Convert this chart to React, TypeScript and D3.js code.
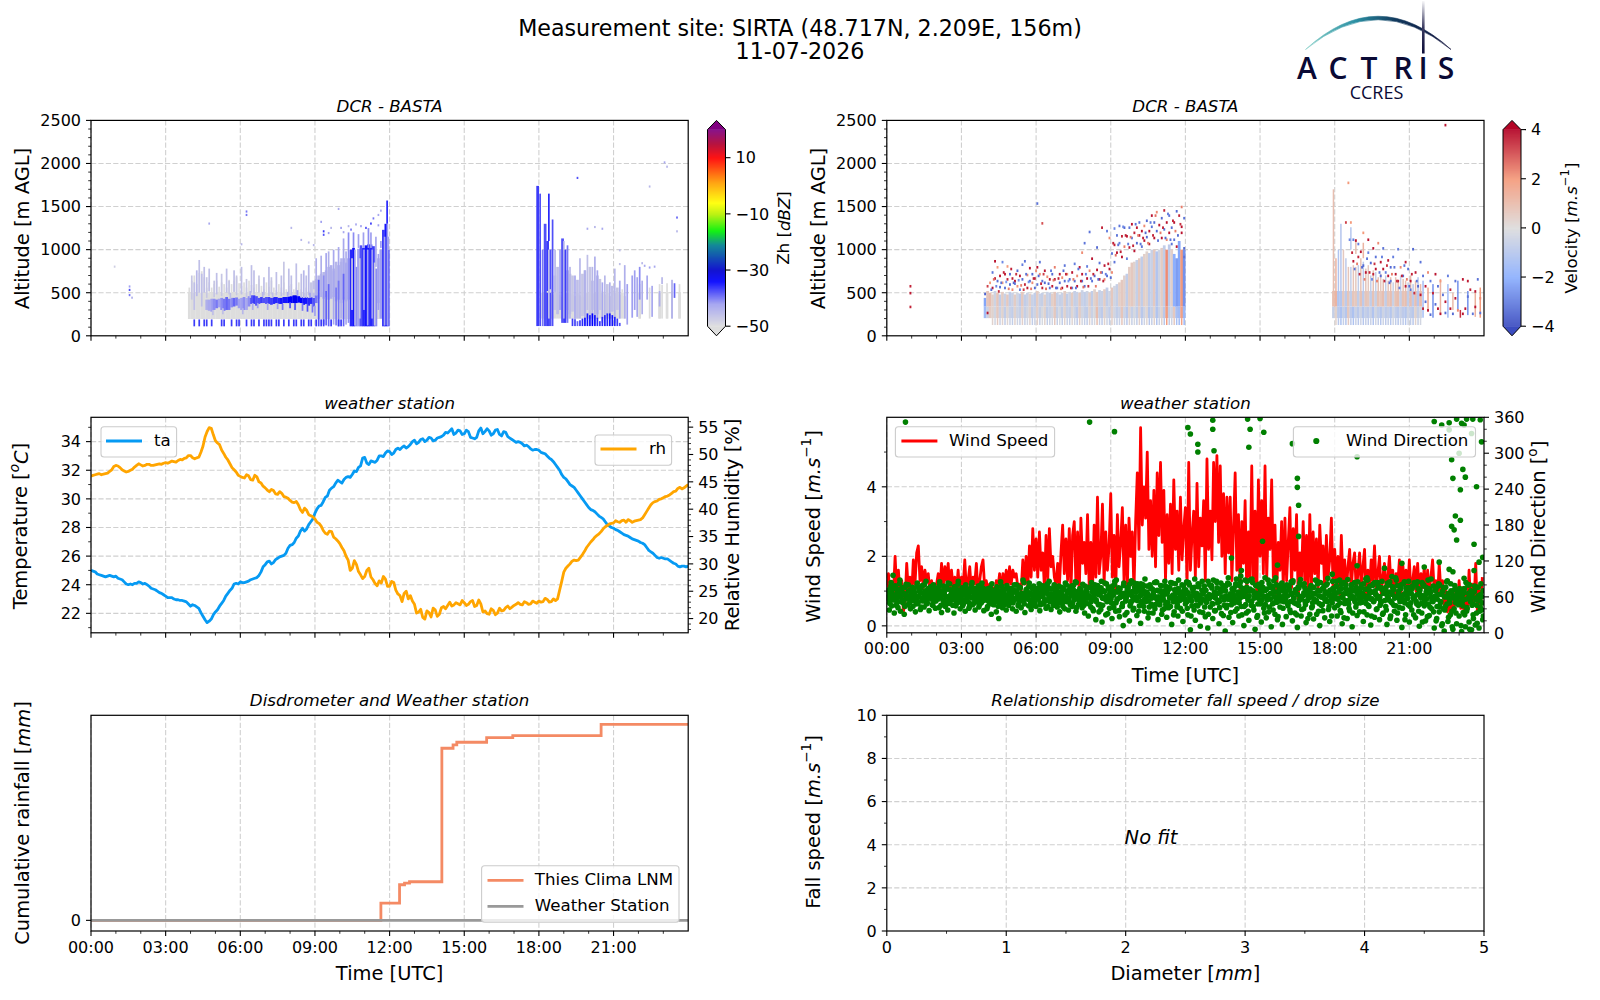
import React from "react";
import * as d3 from "d3";

const titleLines = ["Measurement site: SIRTA (48.717N, 2.209E, 156m)", "11-07-2026"];
const hourLabels = ["00:00", "03:00", "06:00", "09:00", "12:00", "15:00", "18:00", "21:00"];
const hourTicks = [0, 3, 6, 9, 12, 15, 18, 21];
const logoLetters: [string, number][] = [["A", 1307], ["C", 1338], ["T", 1369], ["R", 1403], ["I", 1423], ["S", 1446]];

// temperature and humidity, read on the 10 minute marks and on the 5 minute marks between them
const temperature = [25.0,24.9,24.7,24.6,24.6,24.6,24.6,24.4,24.2,24.0,24.0,24.1,24.15,24.1,23.9,23.7,23.55,23.4,23.2,23.1,23.0,22.95,22.9,22.8,22.5,22.55,22.35,21.8,21.35,21.6,22.1,22.5,22.9,23.4,23.75,24.1,24.2,24.15,24.25,24.4,24.5,24.9,25.4,25.65,25.55,25.85,26.0,26.2,26.75,26.95,27.4,27.95,27.9,28.4,29.0,29.5,29.8,30.2,30.75,31.1,31.2,31.35,31.55,31.7,31.9,32.3,32.9,32.4,32.6,32.7,33.0,33.2,33.3,33.2,33.55,33.6,33.55,33.8,34.1,33.95,34.2,34.1,34.25,34.1,34.3,34.45,34.6,34.9,34.6,34.75,34.55,34.7,34.25,34.3,34.95,34.7,34.75,34.55,34.85,34.4,34.65,34.25,34.05,34.0,33.85,33.75,33.5,33.45,33.4,33.2,33.0,32.75,32.4,32.0,31.5,31.2,30.9,30.6,30.2,29.8,29.4,29.2,28.95,28.7,28.4,28.1,27.95,27.8,27.6,27.45,27.3,27.15,27.05,26.9,26.6,26.3,26.05,25.85,25.85,25.8,25.6,25.45,25.25,25.3,25.3];
const temperatureMid = [24.95,24.75,24.65,24.55,24.65,24.55,24.45,24.35,24.05,24.05,24.1,24.2,24.05,24.0,23.75,23.65,23.45,23.3,23.1,23.1,22.95,22.9,22.85,22.65,22.6,22.45,22.05,21.55,21.45,21.9,22.25,22.7,23.2,23.6,24.05,24.05,24.15,24.2,24.35,24.45,24.65,25.25,25.6,25.45,25.75,25.95,26.05,26.55,26.8,27.25,27.75,27.75,28.2,28.6,29.3,29.55,30.1,30.6,30.85,31.3,31.1,31.5,31.5,31.95,32.2,32.85,32.5,32.65,32.55,33.0,32.95,33.35,33.1,33.45,33.45,33.7,33.65,34.0,33.85,34.15,34.0,34.3,34.05,34.25,34.35,34.65,34.75,34.5,34.8,34.5,34.8,34.3,34.2,34.75,34.55,34.9,34.45,34.8,34.5,34.7,34.35,34.15,33.95,33.95,33.7,33.65,33.4,33.45,33.25,33.15,32.85,32.6,32.2,31.7,31.4,31.0,30.8,30.4,30.0,29.6,29.25,29.1,28.8,28.6,28.2,28.0,27.85,27.7,27.5,27.4,27.2,27.1,26.95,26.8,26.4,26.2,25.9,25.9,25.8,25.7,25.5,25.3,25.3,25.25];
const humidity = [46.0,46.3,46.5,46.4,46.6,47.2,48.0,47.6,47.0,46.9,47.3,48.0,48.1,48.0,48.2,48.0,48.2,48.2,48.5,48.6,48.7,48.9,49.0,49.4,49.8,49.2,49.5,51.5,54.2,54.8,52.5,51.8,50.2,49.0,47.6,46.8,46.0,45.7,46.1,45.3,45.9,44.8,43.9,43.2,43.4,42.7,42.9,42.2,41.6,41.2,40.8,39.4,39.8,38.8,38.2,37.4,36.1,35.4,35.9,34.6,33.7,32.4,30.7,29.2,29.9,28.0,27.7,29.2,27.1,26.0,26.5,27.2,25.9,26.6,24.5,23.1,25.0,24.2,22.6,21.2,20.2,21.4,20.3,21.6,20.8,22.2,22.4,22.3,22.9,22.5,22.9,22.6,23.3,22.4,22.7,21.4,20.8,21.5,21.0,21.4,22.0,21.8,22.4,22.9,22.5,22.9,22.7,23.0,23.2,23.1,23.5,23.1,23.3,25.2,28.5,29.6,30.5,30.6,31.2,32.3,33.5,34.4,35.2,35.9,36.8,37.3,37.5,37.7,37.9,37.6,37.9,37.8,38.0,38.4,39.6,40.8,41.4,41.8,42.1,42.4,42.9,43.3,44.0,43.9,44.5];
const humidityMid = [46.2,46.4,46.3,46.5,46.9,47.8,47.9,47.2,46.8,47.1,47.7,48.3,47.9,48.2,48.0,48.1,48.3,48.4,48.4,48.8,48.6,49.1,49.3,49.8,49.4,49.4,50.4,53.2,54.9,53.6,52.1,50.8,49.5,48.3,47.2,46.2,45.8,46.3,45.4,46.2,45.0,44.2,43.5,43.6,42.8,43.2,42.3,42.0,41.3,41.4,39.9,40.2,39.0,38.6,37.6,36.9,35.6,36.0,34.9,34.2,33.0,31.4,28.8,30.6,28.6,27.3,28.8,27.6,26.4,26.9,27.7,25.9,26.8,25.2,24.2,24.6,23.6,23.2,21.0,21.7,19.9,21.1,21.9,20.4,22.0,21.8,23.0,22.5,22.7,23.3,22.4,23.1,22.2,23.4,21.2,20.9,21.8,20.7,21.9,21.5,22.3,22.1,22.6,22.6,23.1,22.6,23.2,22.8,23.0,23.7,23.0,23.6,23.6,26.8,29.2,30.0,30.7,30.7,31.7,33.0,34.0,34.9,35.5,36.4,37.0,37.4,37.9,37.6,38.0,38.1,37.6,37.9,38.1,39.0,40.2,41.2,41.5,41.9,42.3,42.6,43.2,43.8,43.7,44.2];

// wind speed, every 4 minutes
const windSpeed = [1.1,1.5,0.8,1.2,0.9,2.0,1.0,1.6,0.9,1.3,0.4,0.7,1.8,1.0,1.4,0.9,1.9,1.2,2.1,2.3,1.3,1.7,1.1,1.6,1.3,1.5,0.9,1.3,1.0,1.2,1.2,1.5,1.0,1.8,1.1,1.7,1.3,1.8,1.0,1.6,1.1,1.4,1.0,1.6,0.9,1.4,1.1,1.9,1.0,1.3,1.7,1.0,1.4,1.2,1.8,0.9,1.3,1.7,1.9,1.1,1.3,1.0,1.2,0.8,1.1,0.7,1.3,1.1,1.5,0.9,1.5,1.2,1.6,1.1,1.7,1.2,1.6,1.4,1.5,1.1,1.2,1.0,1.9,1.2,2.0,1.1,2.3,1.4,2.8,1.6,2.5,1.4,2.7,1.6,2.1,1.1,2.6,1.3,2.8,1.7,2.0,1.4,1.2,1.8,1.1,2.1,2.9,1.5,2.5,1.3,2.8,1.0,2.6,3.0,1.2,2.7,0.9,3.1,1.8,2.4,1.5,3.2,1.1,2.4,1.0,2.9,1.4,3.7,1.5,2.0,3.5,1.2,2.7,1.6,2.3,3.8,1.4,2.6,1.0,3.2,1.7,2.4,3.4,1.3,2.9,1.1,3.1,2.0,2.7,1.0,3.0,4.4,2.2,5.7,2.9,4.0,3.1,5.0,2.2,3.6,2.0,3.9,1.7,4.4,2.6,4.7,2.4,3.9,1.3,3.2,1.8,3.5,1.5,4.2,2.2,3.3,1.6,3.7,1.9,2.8,3.4,1.2,4.7,1.6,2.6,3.3,1.4,4.1,1.7,3.1,2.3,3.6,1.3,4.8,2.2,3.3,1.9,4.7,3.0,4.9,2.4,4.6,2.0,3.8,1.5,3.7,2.1,3.7,1.3,2.8,4.4,1.6,3.2,1.0,3.0,1.8,3.6,0.9,2.7,1.4,4.6,1.2,3.3,0.8,4.2,2.0,3.6,1.5,4.6,1.3,3.1,2.2,4.2,1.4,2.9,0.9,2.4,1.6,3.0,1.1,3.1,1.3,2.4,3.4,1.1,2.8,1.6,3.2,0.7,2.1,1.4,3.0,1.2,2.6,1.0,3.2,1.2,2.7,1.5,2.5,1.0,2.9,1.8,2.3,1.0,2.6,1.4,1.9,3.1,1.1,2.2,1.3,2.0,0.9,2.6,1.2,1.9,1.0,1.7,2.2,1.1,1.8,2.1,1.0,1.5,2.1,1.1,1.7,2.2,0.7,1.6,1.0,1.9,1.3,2.3,1.1,1.5,2.0,0.9,1.4,1.8,1.0,1.4,2.0,1.1,1.6,0.8,1.5,1.2,1.9,0.9,1.8,1.2,1.6,1.0,1.9,0.9,1.3,1.7,1.0,1.8,0.8,1.5,1.1,1.7,0.7,1.6,1.0,1.4,1.9,1.0,1.3,0.8,1.8,1.0,1.3,0.6,1.0,0.4,0.9,0.3,0.7,0.5,1.0,0.6,1.3,0.5,1.1,0.3,0.9,0.5,1.6,0.6,1.2,0.7,1.8,0.4,1.0,0.5,1.4];

// wind direction, on the 3 minute marks, then on the marks between them, then the dense core
const windDir = [
52,66,38,71,45,60,33,78,55,42,68,36,74,50,31,62,80,47,57,40,
64,44,72,35,58,49,76,39,67,53,43,70,48,61,37,73,56,46,65,41,
59,75,42,69,34,63,51,44,77,38,60,54,70,46,33,66,49,72,57,40,
62,45,71,36,68,52,41,74,59,47,65,38,55,70,43,61,50,75,37,58,
63,44,52,68,31,56,47,70,35,60,24,66,49,42,73,54,38,62,46,69,
51,40,71,57,36,64,48,76,42,59,53,34,72,61,45,67,39,56,78,50,
44,69,58,37,63,72,48,54,41,66,75,52,39,60,46,71,55,43,68,35,
62,49,73,40,57,66,38,51,70,44,79,59,36,64,47,55,72,42,60,33,
50,68,28,61,43,74,37,56,22,65,47,71,39,18,58,69,30,52,77,41,
63,24,48,81,36,55,70,27,60,44,12,66,53,34,75,20,49,62,38,83,
57,29,71,45,16,64,80,36,52,68,25,43,76,58,33,61,47,84,22,54,
69,31,60,40,78,26,50,73,44,14,63,35,82,55,28,67,41,59,19,72,
48,85,30,62,5,53,75,38,21,66,45,80,11,57,34,70,27,51,8,64,
43,79,24,60,37,86,50,15,68,32,74,55,3,42,83,26,61,47,17,71,
36,90,52,28,78,44,65,12,88,33,59,21,73,46,84,38,6,66,29,81,
54,18,70,41,92,25,62,35,76,10,48,87,31,57,22,69,43,80,14,52,
64,27,49,78,38,85,20,58,33,72,9,46,83,28,61,40,75,17,54,68,
31,79,44,23,66,52,86,36,12,60,47,74,25,56,82,39,19,63,50,71,
42,77,28,58,88,34,15,65,49,80,24,54,37,72,10,60,84,43,29,68,
35,75,51,19,62,90,30,46,70,13,57,82,26,64,40,78,22,53,86,33,
67,44,14,59,80,28,50,72,36,92,21,61,42,76,9,55,85,30,65,47,
18,70,38,58,84,25,48,74,11,63,33,79,45,20,57,88,29,67,40,52,
8,62,24,78,35,50,12,70,3,44,85,19,58,30,66,6,40,74,15,52,
28,60,2,45,72,10,36,80,18,55,5,48,68,13,33,76,8,42,60,22];
const windDirB = [
58,72,49,84,63,55,78,46,69,60,88,52,75,66,44,81,57,70,50,64,
76,54,67,48,83,61,72,43,79,56,65,86,50,74,59,68,47,80,62,53,
71,57,85,46,66,78,52,60,73,49,82,64,55,69,77,45,58,86,62,51,
75,48,67,80,56,63,44,72,84,59,50,70,61,78,47,66,83,54,68,57,
40,74,58,65,82,49,69,52,77,44,62,85,56,71,47,60,79,53,66,74,
63,50,80,57,70,45,76,61,54,88,48,67,73,59,83,52,64,46,75,62,
69,56,82,47,66,60,78,53,71,44,86,58,65,50,80,62,74,49,68,55,
76,44,61,83,52,70,58,47,78,64,55,85,42,69,60,73,50,81,46,66,
62,76,48,58,84,40,67,72,52,79,35,63,86,46,70,56,82,32,61,74,
50,78,42,68,88,57,37,73,64,49,83,30,59,75,66,45,87,54,41,71,
60,82,36,69,52,76,44,90,58,65,33,80,48,73,62,40,85,55,70,47,
78,38,64,86,51,68,42,75,59,83,30,61,72,47,88,54,66,36,79,57,
69,41,84,56,28,74,63,90,46,60,77,35,52,86,68,43,71,58,31,80,
62,49,88,37,66,75,54,42,83,70,29,60,78,46,92,56,34,73,64,50,
82,40,68,57,95,30,74,61,47,86,36,70,53,90,44,65,79,26,58,76,
48,84,62,33,71,55,88,43,66,78,38,60,92,51,27,74,56,83,41,69,
58,80,45,72,34,64,87,50,67,30,76,54,89,39,62,82,47,70,24,60,
75,42,66,56,88,31,71,49,84,60,37,78,53,68,91,44,63,28,74,57,
66,86,46,70,37,81,59,25,74,52,89,41,64,78,33,56,72,48,85,61,
50,80,62,35,73,56,88,44,67,28,79,53,70,39,84,60,46,75,31,66,
72,38,83,55,24,68,77,46,60,88,33,70,52,80,41,64,22,75,57,86,
44,66,78,30,61,52,85,36,72,49,18,80,58,68,27,74,43,90,55,35,
71,20,56,82,44,64,15,76,38,60,87,26,50,70,10,58,79,33,65,47,
74,12,52,66,30,84,40,58,6,70,46,24,78,55,16,62,36,82,50,28];
const windDirCore = [
61,70,55,78,66,58,74,63,50,72,82,60,68,54,76,64,57,80,62,70,
56,73,65,60,78,52,69,75,58,66,80,62,55,71,64,77,59,68,53,74,
65,57,79,61,70,54,67,75,60,83,56,72,63,58,76,66,52,81,69,60,
70,55,64,77,60,72,50,68,80,58,66,74,62,54,71,79,57,65,73,61,
55,69,60,75,48,66,58,72,63,52,70,56,78,60,67,54,74,62,69,57,
64,72,55,68,80,60,53,75,66,58,84,62,70,56,77,64,51,73,60,68,
58,74,65,50,79,62,70,55,67,82,60,73,57,64,76,53,69,61,78,58,
66,52,72,60,80,57,68,75,63,49,71,59,84,64,55,74,61,67,53,78,
70,58,62,76,52,68,60,80,55,72,64,47,75,58,69,83,61,54,73,66,
57,71,63,86,50,68,75,59,66,44,79,61,55,72,64,81,52,69,60,76,
68,54,75,61,82,48,70,57,65,78,53,62,74,46,67,84,58,71,60,52,
79,63,55,70,47,65,76,58,84,61,52,72,66,43,74,59,68,80,56,64,
72,52,67,80,58,45,69,76,60,55,82,63,50,71,65,78,54,60,86,57,
62,75,48,68,58,84,66,52,73,60,79,46,70,62,56,81,65,54,74,59,
78,56,64,50,85,60,71,44,68,76,55,62,88,52,70,58,66,79,48,63,
69,54,76,60,47,73,62,82,56,65,74,50,68,80,58,64,53,71,60,77,
55,70,62,78,52,66,84,58,72,48,64,75,60,56,80,67,52,70,62,58,
72,60,50,76,65,54,82,62,70,46,74,58,66,80,52,63,71,56,86,60,
64,78,56,68,50,74,60,84,54,66,72,48,62,80,58,70,52,76,65,57,
70,55,66,82,60,49,73,62,78,56,68,52,84,64,58,75,60,50,72,66,
54,76,62,68,85,52,64,72,58,45,79,66,56,74,60,82,50,68,62,76,
68,50,74,60,56,80,64,46,70,58,84,62,52,76,66,48,72,60,54,78,
56,72,44,64,80,52,68,40,60,76,48,66,56,82,36,62,72,50,58,68,
50,68,60,34,74,56,42,66,80,52,62,30,70,58,46,76,54,64,38,70];

const windDirOutlierHour = [0.75,8.15,9.15,12.1,12.2,13.1,13.1,12.5,12.5,13.15,14.5,14.6,14.55,15.0,15.15,16.3,16.5,16.5,16.55,16.55,15.1,13.85,18.9,18.9,20.7,22.2,22.0,22.3,22.6,22.6,22.9,23.1,23.2,23.3,23.55,23.85,23.5,23.9,23.0,22.7,23.15,22.75,23.25,23.7,23.05,22.85,23.05,22.7,22.8,22.9,23.6,23.95,22.6,22.75,23.6,23.2,14.25,15.7,20.0,0.25,17.9,19.3,20.3,21.6,23.8];
const windDirOutlierDeg = [352,352,336,343,332,355,340,315,302,304,357,340,310,358,335,316,258,243,213,161,153,125,294,112,116,118,353,347,351,339,357,350,347,357,357,356,333,319,300,289,273,258,260,244,239,195,188,178,172,155,148,126,106,102,104,91,104,113,108,96,98,92,94,110,118];

// rainfall steps
const rainHour = [0, 11.65, 12.4, 12.6, 12.8, 14.1, 14.55, 14.7, 15.9, 16.95, 20.5, 24];
const rainMm = [0, 0.52, 1.07, 1.12, 1.16, 5.17, 5.27, 5.35, 5.49, 5.55, 5.89, 5.89];
const stationHour = [0, 24];
const stationMm = [0, 0];

type Cell = [number, number, number, number];
// Zh: grey column tops (slot = tenths of an hour)
const zhGreyTopLeft = [560,640,700,600,730,750,680,560,620,560,600,640,570,620,600,560,650,600,640,680,610,580,620,560,640,590,560,600,660,580,540,620,570,640,560,530,600,560,620,540,580,600,540,560,620,540,500,560,520,500,540,500,520,480,500,480,500,470,480,500,460,480,450,470,440,460,450,440,470,450,430,460,440,450,430,460,440,430,450,440,430];
const zhGreyTopRight = [500,500,520,540,480,520,500,480,450,500,520,500,480,460,500,470,450,480,500,460,490,510,470,500,520,480,500,460,480,520,500,480,540,460,0,0,0,0,0,600,0,0,0,560,0,0,0,600,590,0,610,0,520,0,0,600];
const zhBand: Cell[] = [[46,300,420,-44],[47,290,420,-43],[48,280,430,-42],[49,300,430,-41],[50,320,420,-40],[51,330,430,-42],[52,300,440,-41],[53,290,430,-40],[54,300,450,-39],[55,300,430,-40],[56,330,440,-41],[57,340,440,-39],[58,350,445,-40],[59,320,430,-42],[60,300,440,-42],[61,300,450,-41],[62,300,440,-43],[63,340,460,-41],[64,370,470,-38],[65,370,470,-37],[66,350,460,-38],[67,370,440,-38],[68,380,450,-37],[69,380,440,-38],[70,370,450,-38],[71,370,450,-37],[72,360,440,-37],[73,370,450,-36],[74,380,450,-36],[75,370,440,-36],[76,370,440,-35],[77,380,450,-35],[78,380,450,-35],[79,380,455,-34],[80,380,460,-34],[81,380,470,-33],[82,380,470,-33],[83,385,460,-34],[84,380,450,-34],[85,360,440,-35],[86,370,450,-35],[87,350,440,-36],[88,370,445,-36],[89,340,440,-38],[90,380,470,-40]];
const zhBandFuzz: Cell[] = [[48.5,240,300,-46],[52.5,250,320,-46],[55.5,430,500,-46],[60.5,250,320,-45],[63.5,440,520,-45],[64.5,300,380,-44],[66.5,320,380,-42],[68.5,450,510,-45],[70.5,300,380,-43],[72.5,440,500,-46],[74.5,310,380,-42],[76.5,300,370,-40],[78.5,450,510,-44],[79.5,320,390,-38],[81.5,300,380,-38],[82.5,460,530,-42],[84.5,290,380,-40],[86.5,280,370,-38],[87.5,440,500,-42],[88.5,270,370,-40],[89.5,230,350,-42]];
const zhHaze: Cell[] = [[40,420,700,-47],[41,300,620,-46],[42,460,760,-45],[43,500,880,-46],[44,340,720,-46],[45,500,800,-46],[46,440,680,-47],[47,520,780,-46],[49,450,640,-47],[50,480,730,-46],[52,460,720,-47],[54,500,780,-46],[55,480,640,-47],[57,510,760,-46],[58,470,700,-47],[60,480,800,-46],[62,450,660,-47],[64,500,820,-46],[65,480,760,-46],[67,500,700,-47],[69,470,680,-46],[71,460,800,-46],[72,480,680,-47],[74,470,740,-46],[76,460,700,-46],[77,470,860,-47],[79,470,780,-46],[80,460,700,-46],[82,480,840,-46],[84,440,720,-46],[85,450,760,-45],[86,440,700,-46],[87,470,820,-45],[90,470,900,-44],[92,450,930,-44],[94,450,960,-43],[95,420,980,-44],[97,450,1000,-43],[99,420,1030,-43],[101,420,1130,-43],[102,400,980,-44],[105,1020,1200,-41],[107,1020,1180,-42],[109,1020,1200,-42],[111,1020,1250,-41],[112,1020,1200,-42],[114,800,1150,-43],[116,1020,1100,-42],[119,1000,1150,-42]];
const zhCloud: Cell[] = [[88,440,620,-47],[89,450,640,-46],[90,470,660,-46],[91,430,700,-45],[92,450,720,-46],[93,430,740,-45],[94,450,760,-45],[95,420,800,-45],[96,430,820,-44],[97,450,780,-45],[98,400,860,-45],[99,420,820,-44],[100,380,860,-45],[101,420,900,-44],[102,400,840,-45],[103,420,900,-44],[115,380,900,-45],[186,300,700,-47],[187,250,800,-46],[191,300,760,-46],[192,250,720,-47],[193,280,700,-47],[195,200,650,-46],[197,230,720,-47],[198,250,760,-46],[200,200,800,-47],[201,300,640,-46],[203,250,700,-46],[204,300,660,-47],[207,230,600,-47],[209,280,580,-46],[211,300,560,-47]];
const zhCore: Cell[] = [[104,110,1000,-36],[105,110,1020,-35],[106,110,800,-41],[107,110,1010,-42],[108,110,1050,-38],[109,110,1020,-36],[110,110,1050,-35],[111,110,1060,-35],[112,110,1060,-36],[113,110,1040,-37],[114,110,780,-41],[116,200,1000,-42],[117,110,1230,-37],[118,110,1300,-35],[119,110,1000,-39],[179,113,1740,-37],[182,113,1300,-38],[183,113,1100,-37],[184,113,1000,-38],[189,150,1130,-38],[190,150,1000,-37]];
const zhCoreGaps: Cell[] = [[104.4,300,900,-47],[105.6,120,1000,-44],[107.5,200,900,-47],[109.2,300,1000,-42],[110.7,120,1000,-42],[112.5,200,1000,-42],[113.5,120,850,-47],[117.5,120,1150,-43],[118.6,120,1300,-42],[183.5,200,1000,-46],[189.5,200,1100,-44]];
const zhThin: Cell[] = [[91,110,650,-38],[93,130,700,-41],[94,120,520,-39],[95,110,600,-39],[97,130,750,-43],[98,120,560,-40],[99,110,640,-40],[100,200,900,-44],[101,110,720,-39],[102,130,850,-43],[103,150,1200,-41],[115,300,950,-42],[118.5,1300,1570,-36],[180,113,1650,-38],[181,113,1000,-40],[183.5,1100,1650,-36],[185,113,1350,-38],[186,500,1000,-45],[188,300,1000,-42],[191,150,1050,-40],[192,200,800,-45],[194,113,700,-43],[196,200,900,-45],[198,130,760,-44],[199,300,940,-46],[201,130,800,-45],[202,130,920,-44],[203,200,760,-43],[205,150,620,-43],[206,113,700,-45],[208,200,620,-44],[210,150,780,-45],[212,200,640,-43],[214,200,820,-44],[215,130,600,-42],[217,210,700,-42],[218,300,760,-42],[219,220,680,-43],[220,420,800,-41],[221,250,640,-44],[223,420,700,-43],[225,220,580,-43],[228,340,520,-44],[229,600,680,-45],[233,200,650,-44],[234,440,610,-39]];
const zhLowRight: Cell[] = [[193,113,200,-37],[194,113,190,-38],[195,113,170,-39],[196,113,180,-37],[197,113,200,-36],[198,113,210,-35],[199,113,260,-35],[200,113,240,-35],[201,113,260,-34],[202,113,240,-35],[203,113,210,-36],[204,113,170,-37],[205,113,220,-36],[206,113,240,-36],[207,113,260,-36],[208,113,260,-35],[209,113,240,-35],[210,113,220,-36],[211,113,200,-37],[212,113,150,-38]];
const zhLowSlots = [41,43,45,46,48,52,53,56,58,59,62,64,65,67,69,70,71,72,74,75,77,79,81,82,84,85,87,88,90,92,93,96,99,100];
const zhSpecks: [number, number, number][] = [[9,790,-48],[15,520,-38],[15,460,-40],[15,560,-42],[16,430,-44],[47,1290,-43],[62,1430,-40],[62,1390,-40],[60,1050,-45],[80,1240,-45],[84,1100,-45],[87,1070,-45],[89,1040,-45],[92,1310,-42],[99,1460,-43],[93,1200,-37],[93,1160,-38],[95,1180,-42],[96,1240,-45],[100,1240,-42],[101,1190,-43],[103,1260,-45],[104,1220,-40],[106,1280,-43],[108,1260,-42],[110,1240,-38],[112,1290,-37],[113,1350,-40],[115,1390,-43],[116,1440,-43],[115,1270,-42],[195,1820,-38],[199,1230,-43],[202,1250,-45],[205,1230,-43],[212,820,-46],[212,980,-46],[221,830,-45],[224,1720,-45],[235,1360,-39],[235,1200,-45],[230,2000,-43],[231,1950,-45],[222,800,-43],[224,780,-42],[226,790,-43]];

// Velocity body columns, slots 39..119 and 179..214
const velTopLeft = [440,520,500,480,520,500,480,510,490,480,510,500,480,500,490,510,480,500,490,480,500,520,490,500,480,510,500,490,510,500,480,500,520,490,510,500,520,510,500,530,510,520,500,520,540,510,530,520,540,560,520,560,580,600,620,650,700,720,800,850,860,880,900,920,950,980,960,1000,1000,980,1000,1020,1050,1000,1060,1000,950,900,1100,1000,1000];
const velLowLeft = [-1.5,-0.5,0.5,0.3,-0.3,0.6,-0.5,0.3,-0.7,0.2,-0.5,-0.7,0.3,-0.4,-0.6,0.4,-0.6,-0.3,0.3,-0.7,-0.4,0.4,-0.6,-0.2,0.3,-0.7,-0.5,-0.3,0.6,-0.6,-0.2,-0.7,0.3,-0.5,-0.6,0.2,-0.4,-0.8,0.5,-0.3,-0.6,-0.7,0.3,-0.5,-0.2,0.9,-0.6,-0.8,0.3,-0.4,-0.7,0.4,-0.3,-0.7,-0.5,0.7,-0.4,-0.9,0.3,-0.6,-0.2,-0.7,0.4,-0.9,-0.4,0.2,-1.0,-0.6,0.3,-1.1,-0.5,0.3,-0.9,1.9,-0.7,-0.4,0.6,-1.3,-1.5,1.8,-1.7];
const velHighLeft = [-2.2,0.7,0.9,0.4,-0.4,0.7,-0.7,0.5,-0.5,0.6,-0.7,-0.5,0.5,-0.3,-0.8,0.6,-0.7,-0.5,0.4,-0.5,-0.7,0.5,-0.5,-0.6,0.4,-0.5,-0.7,0.4,0.7,-0.5,-0.6,-0.5,0.5,-0.7,-0.4,0.5,-0.6,-0.5,0.6,-0.5,-0.7,-0.4,0.5,-0.7,0.3,0.6,-0.6,-0.5,0.5,-0.7,-0.4,0.6,-0.3,-0.6,0.4,0.6,0.4,-0.7,0.5,0.6,0.3,-0.6,0.6,-0.7,0.4,0.3,-0.8,-0.5,0.6,-1.1,-0.4,0.5,-0.7,2.2,-0.8,0.4,-2.0,-2.4,-2.2,2.0,-2.6];
const velTopRight = [1700,900,1000,1300,1000,900,800,800,820,800,820,900,860,780,820,700,760,740,680,720,660,700,640,680,620,680,640,700,660,640,620,700,600,640,680,600];
const velLowRight = [-0.6,0.3,-0.9,-1.2,-0.6,-1.0,0.6,-0.8,-1.2,-0.5,-0.9,-0.4,-1.0,-0.6,-0.8,-0.5,-1.1,-0.3,-0.7,-1.0,-0.4,-0.8,-0.6,-1.0,-0.3,-0.7,-0.9,-0.5,-0.8,-1.0,-0.4,-0.7,-0.9,0.3,-0.6,-0.3];
const velHighRight = [0.9,1.2,-1.1,-1.0,0.6,-0.8,0.7,-0.7,0.7,0.6,-0.7,0.8,-0.8,0.7,0.6,-0.7,0.8,-0.6,0.8,0.6,0.9,-0.7,0.7,0.9,-0.5,0.8,0.9,-0.6,0.8,0.9,-0.7,0.9,-0.8,0.9,-1.0,1.0];
const velSparse: Cell[] = [[215,210,640,-1.4],[217,300,560,1.6],[219,210,600,-2.6],[222,250,660,1.2],[225,210,600,-1.5],[227,300,500,1.0],[229,300,640,-2.6],[233,240,520,-2.6],[236,220,500,1.3],[238,210,560,2.0],[230,210,300,3.4],[186,1000,1260,-1.0],[188,950,1120,0.9],[191,900,1080,1.2]];
const velSpecks: [number, number, number][] = [[9,560,3.6],[9,480,3.7],[9,320,3.6],[39,470,-3.5],[40,560,3.2],[40,250,3.8],[41,600,2.0],[42,720,-3.2],[42,540,3.8],[43,650,3.6],[43,850,3.8],[44,620,-3.3],[44,780,2.0],[45,550,-3.3],[45,680,3.7],[46,840,-2.8],[46,600,2.0],[47,700,3.7],[47,540,-3.2],[48,640,3.6],[48,790,2.0],[49,580,-3.4],[49,700,-3.4],[50,650,3.7],[50,520,2.2],[51,590,-3.0],[51,620,3.8],[52,740,-3.4],[52,560,2.1],[53,680,3.7],[53,520,-3.0],[54,640,-3.4],[54,810,-3.0],[55,580,3.6],[55,850,-3.2],[56,690,2.2],[56,540,3.7],[57,770,3.8],[57,620,-3.4],[58,600,2.2],[58,700,-3.4],[59,540,-3.4],[59,650,3.6],[60,780,3.8],[60,580,-3.2],[61,700,2.2],[61,840,-3.2],[62,620,-3.2],[62,540,3.6],[63,740,3.7],[63,600,-3.4],[64,670,2.2],[65,540,-3.2],[65,640,3.8],[66,700,-3.4],[66,560,3.7],[67,640,3.8],[67,780,2.4],[68,540,-3.2],[69,700,3.7],[69,600,-3.4],[70,660,2.2],[70,540,3.8],[71,620,-3.3],[71,800,-3.2],[72,700,2.2],[72,560,3.6],[73,640,-3.4],[74,720,3.8],[74,540,-3.0],[75,620,-3.4],[75,820,-3.0],[76,560,3.8],[76,680,2.2],[77,780,3.7],[78,620,-3.4],[78,950,2.2],[78,700,3.7],[79,560,-3.4],[79,1060,-3.2],[80,650,3.8],[80,790,-3.0],[81,740,2.2],[81,1190,-3.2],[82,620,-3.2],[82,880,3.8],[83,680,-3.4],[84,750,3.8],[84,1010,-3.4],[85,640,3.7],[85,830,-3.2],[86,720,-3.2],[86,1240,3.6],[87,800,3.8],[87,640,2.2],[88,680,-3.3],[88,1200,-3.0],[89,760,3.8],[89,1120,2.2],[90,940,-3.2],[90,720,2.2],[91,1040,3.6],[91,840,-3.2],[91,1230,-2.8],[92,1150,-3.2],[92,950,3.8],[93,1260,-3.2],[93,1060,-3.0],[94,900,3.8],[94,1140,3.6],[95,1240,-3.4],[95,1020,2.4],[96,1140,3.8],[96,880,-3.0],[97,1010,3.7],[97,1240,-3.2],[98,1120,-3.2],[98,1280,3.8],[99,970,3.8],[99,1180,3.6],[100,1060,-3.4],[100,1240,3.7],[101,1150,3.8],[101,1300,-3.2],[102,1020,-3.2],[102,1200,3.8],[103,1090,3.8],[103,1260,2.2],[104,1320,-3.4],[104,1130,-3.4],[105,1200,3.8],[105,1050,3.6],[106,1380,3.8],[106,1250,-3.2],[107,1300,-3.4],[107,1120,3.8],[108,1420,2.2],[108,1200,-3.4],[109,1270,3.7],[110,1350,-3.4],[110,1120,3.8],[111,1440,3.6],[111,1220,-3.2],[112,1300,3.8],[112,1100,2.2],[113,1380,-3.2],[113,1180,3.8],[114,1240,-3.3],[114,1050,-3.2],[115,1300,3.8],[115,1100,-3.2],[116,1430,-3.4],[116,1020,3.8],[117,1380,3.6],[118,1480,2.4],[118,1250,3.8],[118,1180,3.8],[119,1000,-3.4],[119,1350,-3.2],[119,900,-3.2],[60,1520,-3.2],[62,1290,3.0],[184,1300,3.2],[185,1760,2.0],[186,1300,2.0],[187,1100,-3.0],[187,850,3.8],[188,1090,3.8],[189,1050,-3.0],[189,900,3.6],[190,960,3.8],[191,1180,2.0],[191,800,-3.4],[192,720,3.8],[193,1100,3.8],[193,950,-3.0],[194,830,-3.4],[195,1000,3.8],[195,700,3.6],[196,900,-3.2],[196,760,3.8],[197,1060,2.2],[198,840,3.7],[198,680,-3.4],[199,760,3.8],[199,1000,-3.2],[200,720,-3.0],[201,860,3.8],[201,680,3.8],[202,780,-3.4],[202,620,-3.2],[203,900,-3.0],[204,700,3.8],[205,620,3.6],[205,990,-3.0],[206,780,2.2],[207,680,-3.4],[208,840,3.7],[208,560,3.8],[209,760,-3.2],[210,620,3.8],[210,520,-3.2],[211,990,-3.4],[212,720,3.7],[213,560,-3.4],[214,840,-3.2],[214,460,3.8],[215,680,-3.2],[215,300,3.6],[216,560,3.8],[216,380,-3.4],[217,720,2.2],[217,280,3.8],[218,620,-3.0],[218,230,-3.4],[219,480,3.6],[220,700,3.8],[220,350,-3.4],[221,300,3.8],[221,560,-3.2],[222,240,3.8],[222,620,2.0],[223,460,-3.2],[224,380,3.8],[224,250,-3.4],[225,680,-3.0],[226,300,3.8],[226,520,3.6],[227,240,-3.4],[228,420,3.8],[228,620,-3.2],[229,280,2.2],[231,240,3.8],[231,640,3.8],[232,300,3.8],[233,620,3.7],[233,440,-3.2],[234,520,3.6],[235,240,-3.2],[236,320,3.8],[236,500,3.8],[237,640,-3.3],[238,420,2.2],[238,250,-3.2],[224,2430,3.8]];
const velSpecksB: [number, number, number][] = [[41.5,520,-3.2],[42.5,640,2.6],[43.5,560,-2.8],[44.5,500,3.4],[45.5,600,-3.2],[46.5,720,3.6],[47.5,610,-2.4],[48.5,530,2.4],[49.5,760,3.6],[50.5,600,-3.4],[51.5,700,3.4],[52.5,630,-2.6],[53.5,570,2.4],[54.5,520,3.2],[55.5,700,-3.2],[56.5,610,-2.6],[57.5,530,2.4],[58.5,650,3.6],[59.5,740,2.2],[60.5,680,-3.4],[61.5,590,3.6],[62.5,700,3.2],[63.5,530,2.6],[64.5,590,-3.4],[65.5,740,-3],[66.5,630,2.4],[67.5,540,-3.4],[68.5,650,3.6],[69.5,530,2.4],[70.5,740,-3.4],[71.5,700,3.6],[72.5,620,-2.6],[73.5,540,3.4],[74.5,640,2.4],[75.5,540,-3.2],[76.5,760,-3.2],[77.5,620,3.6],[78.5,550,2.6],[79.5,700,-3],[80.5,560,3.6],[81.5,650,-3.2],[82.5,700,3.6],[83.5,560,2.4],[84.5,640,-3.4],[85.5,720,2.6],[86.5,620,3.6],[87.5,700,-3],[88.5,820,3.6],[89.5,660,-3.4],[90.5,1060,3.6],[91.5,920,2.6],[92.5,1040,-3.2],[93.5,960,3.6],[94.5,1250,-2.8],[95.5,1150,3.6],[96.5,1050,-3],[97.5,1130,2.4],[98.5,1030,3.6],[99.5,1280,-3.2],[100.5,1150,2.4],[101.5,1050,-3.2],[102.5,1120,3.6],[103.5,1180,-3.4],[104.5,1060,2.4],[105.5,1300,-3],[106.5,1150,3.6],[107.5,1380,2.6],[108.5,1090,-3.2],[109.5,1180,2.4],[110.5,1240,3.6],[111.5,1120,-3.4],[112.5,1400,-3],[113.5,1100,-3.2],[114.5,1320,3.6],[115.5,1200,2.4],[116.5,1150,-3.4],[117.5,1280,3.4],[185.5,1100,-2.8],[186.5,950,3.6],[187.5,760,-3.2],[188.5,820,2.4],[189.5,700,3.6],[190.5,780,-3.4],[191.5,640,2.4],[192.5,880,-3.2],[193.5,720,3.6],[194.5,640,-2.8],[195.5,820,3.4],[196.5,620,2.4],[197.5,720,-3.2],[198.5,900,-3],[199.5,620,3.6],[200.5,800,3.4],[201.5,600,-3.4],[202.5,700,2.4],[203.5,780,-3.2],[204.5,620,3.4],[205.5,540,-3],[206.5,680,3.6],[207.5,800,-3.2],[208.5,640,2.4],[209.5,560,-3.4],[210.5,700,3.6],[211.5,480,3.4],[212.5,620,-3.2]];

// Zh and velocity colour stops
const zhStopValues = [-50, -42, -34, -30, -21, -16, -10, -6, 1, 10, 15, 20];
const zhStopColors = ["#dddddd", "#a0a0f0", "#0000ff", "#0000cc", "#008090", "#00f000", "#b8f000", "#ffff00", "#ffa000", "#ff0000", "#b00030", "#800080"];
const velStopValues = [-4, -2, 0, 2, 4];
const velStopColors = ["#3b4cc0", "#8db0fe", "#dddcdc", "#f49a7b", "#b40426"];

const FONT = "DejaVu Sans";
const TICK = 16;
const LAB = 19.44;
const TTL = 16.67;
const LEG = 16.67;
const CBL = 16.67;
const GRID = "#d0d0d0";
const DASH = "5.2 2.2";

const colX: [number, number][] = [[91, 688.2], [886.8, 1484]];
const rowY: [number, number][] = [[120.4, 335.8], [417.3, 632.8], [715.3, 931]];

const xHour = (c: number) => d3.scaleLinear().domain([0, 24]).range(colX[c]);
const yAlt = d3.scaleLinear().domain([0, 2500]).range([rowY[0][1], rowY[0][0]]);
const yTemp = d3.scaleLinear().domain([20.64, 35.7]).range([rowY[1][1], rowY[1][0]]);
const yRh = d3.scaleLinear().domain([17.4, 56.8]).range([rowY[1][1], rowY[1][0]]);
const ySpeed = d3.scaleLinear().domain([-0.2, 6.0]).range([rowY[1][1], rowY[1][0]]);
const yDeg = d3.scaleLinear().domain([0, 360]).range([rowY[1][1], rowY[1][0]]);
const yRain = d3.scaleLinear().domain([-0.32, 6.16]).range([rowY[2][1], rowY[2][0]]);
const xDiam = d3.scaleLinear().domain([0, 5]).range(colX[1]);
const yFall = d3.scaleLinear().domain([0, 10]).range([rowY[2][1], rowY[2][0]]);
const zhColor = d3.scaleLinear<string>().domain(zhStopValues).range(zhStopColors).clamp(true);
const velColor = d3.scaleLinear<string>().domain(velStopValues).range(velStopColors).clamp(true);

const minorHours = d3.range(0, 24).filter((h) => h % 3 !== 0);

function Grid({ xs, ys, x, y }: { xs: number[]; ys: number[]; x: [number, number]; y: [number, number] }) {
  return (
    <g stroke={GRID} strokeWidth={1.1} strokeDasharray={DASH}>
      {xs.map((v, i) => <line key={i} x1={v} x2={v} y1={y[0]} y2={y[1]} />)}
      {ys.map((v, i) => <line key={i} y1={v} y2={v} x1={x[0]} x2={x[1]} />)}
    </g>
  );
}

function Frame({ x, y }: { x: [number, number]; y: [number, number] }) {
  return <rect x={x[0]} y={y[0]} width={x[1] - x[0]} height={y[1] - y[0]} fill="none" stroke="#000" strokeWidth={1.2} />;
}

function XAxis({ scale, major, minor, labels, y, labelY }: { scale: (v: number) => number; major: number[]; minor: number[]; labels?: string[]; y: number; labelY?: number }) {
  return (
    <g>
      {major.map((v, i) => <line key={i} x1={scale(v)} x2={scale(v)} y1={y} y2={y + 5} stroke="#000" strokeWidth={1.1} />)}
      {minor.map((v, i) => <line key={i} x1={scale(v)} x2={scale(v)} y1={y} y2={y + 2.8} stroke="#000" strokeWidth={0.8} />)}
      {labels && major.map((v, i) => (
        <text key={i} x={scale(v)} y={labelY} textAnchor="middle" fontSize={TICK}>{labels[i]}</text>
      ))}
    </g>
  );
}

function YAxis({ scale, major, minor, x, side = -1, fmt }: { scale: (v: number) => number; major: number[]; minor: number[]; x: number; side?: number; fmt?: (v: number) => string }) {
  return (
    <g>
      {major.map((v, i) => <line key={i} y1={scale(v)} y2={scale(v)} x1={x} x2={x + side * 5} stroke="#000" strokeWidth={1.1} />)}
      {minor.map((v, i) => <line key={i} y1={scale(v)} y2={scale(v)} x1={x} x2={x + side * 2.8} stroke="#000" strokeWidth={0.8} />)}
      {major.map((v, i) => (
        <text key={i} x={x + side * 10} y={scale(v) + 5.8} textAnchor={side < 0 ? "end" : "start"} fontSize={TICK}>{fmt ? fmt(v) : String(v)}</text>
      ))}
    </g>
  );
}

function VLabel({ x, y, size = LAB, children }: { x: number; y: number; size?: number; children: React.ReactNode }) {
  return <text transform={`translate(${x},${y}) rotate(-90)`} textAnchor="middle" fontSize={size} dominantBaseline="central">{children}</text>;
}

function Unit({ size = LAB }: { size?: number }) {
  return (
    <>
      <tspan fontStyle="italic">m.s</tspan>
      <tspan fontSize={size * 0.7} dy={-size * 0.38}>−1</tspan>
      <tspan dy={size * 0.38}>]</tspan>
    </>
  );
}

function Legend({ x, y, w, h, items }: { x: number; y: number; w: number; h: number; items: { color: string; label: string; y: number; dot?: boolean; lx: number; tx: number }[] }) {
  return (
    <g>
      <rect x={x} y={y} width={w} height={h} rx={3} fill="#fff" fillOpacity={0.8} stroke="#cccccc" strokeWidth={1.1} />
      {items.map((it, i) => (
        <g key={i}>
          {it.dot
            ? <circle cx={it.lx + 18} cy={it.y} r={3.1} fill={it.color} />
            : <line x1={it.lx} x2={it.lx + 36} y1={it.y} y2={it.y} stroke={it.color} strokeWidth={2.8} />}
          <text x={it.tx} y={it.y + 5} fontSize={LEG}>{it.label}</text>
        </g>
      ))}
    </g>
  );
}

function Cells({ c, cells, color, width }: { c: number; cells: Cell[]; color: (v: number) => string; width?: number }) {
  const x = xHour(c);
  const full = x(0.1) - x(0);
  const w = width ?? full + 0.25;
  return (
    <g>
      {cells.map(([slot, lo, hi, v], i) => (
        <rect key={i} x={x(slot / 10) + (full - w) / 2} width={w} y={yAlt(hi)} height={yAlt(lo) - yAlt(hi)} fill={color(v)} />
      ))}
    </g>
  );
}

function ColorBar({ x, stops, color, ticks, low, high, label, labelX }: { x: number; stops: [number, number]; color: (v: number) => string; ticks: number[]; low: string; high: string; label: React.ReactNode; labelX: number }) {
  const w = 18, yTop = 129.6, yBot = 326.2, tipTop = 120.4, tipBot = 335.8;
  const s = d3.scaleLinear().domain(stops).range([yBot, yTop]);
  const vals = d3.range(0, 197).map((i) => s.invert(yBot - i - 0.5));
  return (
    <g>
      {vals.map((v, i) => <rect key={i} x={x} y={yBot - i - 1} width={w} height={1.4} fill={color(v)} />)}
      <polygon points={`${x},${yTop} ${x + w / 2},${tipTop} ${x + w},${yTop}`} fill={high} />
      <polygon points={`${x},${yBot} ${x + w / 2},${tipBot} ${x + w},${yBot}`} fill={low} />
      <polygon points={`${x},${yTop} ${x + w / 2},${tipTop} ${x + w},${yTop} ${x + w},${yBot} ${x + w / 2},${tipBot} ${x},${yBot}`} fill="none" stroke="#000" strokeWidth={1} />
      {ticks.map((t, i) => (
        <g key={i}>
          <line x1={x + w} x2={x + w + 5} y1={s(t)} y2={s(t)} stroke="#000" strokeWidth={1.1} />
          <text x={x + w + 10} y={s(t) + 5.8} fontSize={TICK}>{String(t).replace("-", "−")}</text>
        </g>
      ))}
      <VLabel x={labelX} y={228} size={CBL}>{label}</VLabel>
    </g>
  );
}

const SOLID_TOP = 500;
function greySolid(start: number, tops: number[], lo: number): Cell[] {
  return tops.flatMap((t, i) => (t > 0 && t <= 590 && start > 100 && i > 33 ? [] : t > 0 ? [[start + i, lo, Math.min(t, SOLID_TOP), -50] as Cell] : []));
}
function greyThin(start: number, tops: number[], lo: number): Cell[] {
  return tops.flatMap((t, i) => (t > SOLID_TOP ? [[start + i, start > 100 && i > 33 ? lo : SOLID_TOP, t, -50] as Cell] : []));
}
function velBody(start: number, tops: number[], low: number[], high: number[], cap: number): Cell[] {
  return tops.flatMap((t, i) => {
    const split = Math.min(t, 340);
    const out: Cell[] = [[start + i, 205, split, low[i]]];
    if (t > 340) out.push([start + i, split, Math.min(t, cap), high[i]]);
    return out;
  });
}
function velFringe(start: number, tops: number[], low: number[], high: number[], cap: number, skip: number): Cell[] {
  return tops.flatMap((t, i) => {
    const out: Cell[] = [];
    if (i > skip) out.push([start + i, 125, 205, low[i]]);
    if (t > cap) out.push([start + i, cap, t, high[i]]);
    return out;
  });
}

function Logo() {
  return (
    <g>
      <defs>
        <linearGradient id="arcGrad" x1="1305" x2="1451" y1="0" y2="0" gradientUnits="userSpaceOnUse">
          <stop offset="0" stopColor="#85d0c8" />
          <stop offset="0.35" stopColor="#2b8fa3" />
          <stop offset="0.62" stopColor="#123a5e" />
          <stop offset="1" stopColor="#0a0a35" />
        </linearGradient>
        <linearGradient id="mastGrad" x1="0" x2="0" y1="0" y2="55" gradientUnits="userSpaceOnUse">
          <stop offset="0" stopColor="#ffffff" />
          <stop offset="0.5" stopColor="#3a3a60" />
          <stop offset="1" stopColor="#0a0a35" />
        </linearGradient>
      </defs>
      <path d="M1305.5,49.5 Q1378,-17 1451,49.5 Q1378,-10 1305.5,49.5 Z" fill="url(#arcGrad)" stroke="url(#arcGrad)" strokeWidth={0.6} />
      <rect x={1422} y={1} width={2.6} height={52.5} fill="url(#mastGrad)" />
      {logoLetters.map(([l, x]) => (
        <text key={l} x={x} y={78.5} textAnchor="middle" fontFamily="Open Sans" fontWeight={600} fontSize={30} fill="#0a0a35">{l}</text>
      ))}
      <text x={1376.5} y={99} textAnchor="middle" fontFamily="Open Sans" fontSize={18} fill="#0a0a35">CCRES</text>
    </g>
  );
}

export default function App() {
  const x0 = xHour(0), x1 = xHour(1);
  const grid0 = hourTicks.map(x0), grid1 = hourTicks.map(x1);
  const tFine = temperature.flatMap((v, i) => (i < temperatureMid.length ? [v, temperatureMid[i]] : [v]));
  const rhFine = humidity.flatMap((v, i) => (i < humidityMid.length ? [v, humidityMid[i]] : [v]));
  const tLine = d3.line<number>().x((_, i) => x0((i * 5) / 60)).y((d) => yTemp(d));
  const rhLine = d3.line<number>().x((_, i) => x0((i * 5) / 60)).y((d) => yRh(d));
  const wsLine = d3.line<number>().x((_, i) => x1((i * 4) / 60)).y((d) => ySpeed(d));
  const rainLine = d3.line<number>().x((_, i) => x0(rainHour[i])).y((d) => yRain(d)).curve(d3.curveStepAfter);
  const stLine = d3.line<number>().x((_, i) => x0(stationHour[i])).y((d) => yRain(d));
  const zhWide: Cell[] = [
    ...greySolid(39, zhGreyTopLeft, 195),
    ...greySolid(181, zhGreyTopRight, 200),
    ...zhCloud, ...zhBand, ...zhCore,
  ];
  const zhNarrow: Cell[] = [
    ...greyThin(39, zhGreyTopLeft, 195),
    ...greyThin(181, zhGreyTopRight, 200),
    ...zhHaze, ...zhThin, ...zhCoreGaps, ...zhBandFuzz, ...zhLowRight,
    ...zhLowSlots.map((s) => [s, 110, 190, -37] as Cell),
  ];
  const zhDots: Cell[] = zhSpecks.map(([s, a, v]) => [s, a, a + 25, v] as Cell);
  const velWide: Cell[] = [
    ...velBody(39, velTopLeft, velLowLeft, velHighLeft, 9999),
    ...velBody(179, velTopRight, velLowRight, velHighRight, 520),
  ];
  const velNarrow: Cell[] = [
    ...velFringe(39, velTopLeft, velLowLeft, velHighLeft, 9999, 2),
    ...velFringe(179, velTopRight, velLowRight, velHighRight, 520, 0),
    ...velSparse,
  ];
  const velDots: Cell[] = [...velSpecks, ...velSpecksB].map(([s, a, v]) => [s, a, a + 30, v] as Cell);
  return (
    <svg width={1600} height={1000} viewBox="0 0 1600 1000" style={{ position: "fixed", left: 0, top: 0, background: "#fff" }} fontFamily={FONT} fill="#000">
      <defs>
        {[0, 1].flatMap((c) => [0, 1, 2].map((r) => (
          <clipPath key={`${c}${r}`} id={`clip${c}${r}`}>
            <rect x={colX[c][0]} y={rowY[r][0]} width={colX[c][1] - colX[c][0]} height={rowY[r][1] - rowY[r][0]} />
          </clipPath>
        )))}
      </defs>

      {titleLines.map((t, i) => (
        <text key={i} x={800} y={36 + i * 23.4} textAnchor="middle" fontSize={22.2}>{t}</text>
      ))}
      <Logo />

      {/* Row 1 left */}
      <text x={389.6} y={112} textAnchor="middle" fontSize={TTL} fontStyle="italic">DCR - BASTA</text>
      <Grid xs={grid0} ys={[500, 1000, 1500, 2000].map(yAlt)} x={colX[0]} y={rowY[0]} />
      <g clipPath="url(#clip00)">
        <Cells c={0} cells={zhWide} color={zhColor} />
        <Cells c={0} cells={zhNarrow} color={zhColor} width={1.7} />
        <Cells c={0} cells={zhDots} color={zhColor} width={1.7} />
      </g>
      <Frame x={colX[0]} y={rowY[0]} />
      <XAxis scale={x0} major={hourTicks} minor={minorHours} y={rowY[0][1]} />
      <YAxis scale={yAlt} major={[0, 500, 1000, 1500, 2000, 2500]} minor={d3.range(100, 2500, 100).filter((v) => v % 500)} x={colX[0][0]} />
      <VLabel x={22.5} y={228.5}>Altitude [m AGL]</VLabel>
      <ColorBar x={707.5} stops={[-50, 20]} color={zhColor} ticks={[-50, -30, -10, 10]} low="#dddddd" high="#800080" labelX={783.5} label={<>Zh [<tspan fontStyle="italic">dBZ</tspan>]</>} />

      {/* Row 1 right */}
      <text x={1185.4} y={112} textAnchor="middle" fontSize={TTL} fontStyle="italic">DCR - BASTA</text>
      <Grid xs={grid1} ys={[500, 1000, 1500, 2000].map(yAlt)} x={colX[1]} y={rowY[0]} />
      <g clipPath="url(#clip10)">
        <Cells c={1} cells={velWide} color={velColor} />
        <Cells c={1} cells={velNarrow} color={velColor} width={1.5} />
        <Cells c={1} cells={velDots} color={velColor} width={1.9} />
      </g>
      <Frame x={colX[1]} y={rowY[0]} />
      <XAxis scale={x1} major={hourTicks} minor={minorHours} y={rowY[0][1]} />
      <YAxis scale={yAlt} major={[0, 500, 1000, 1500, 2000, 2500]} minor={d3.range(100, 2500, 100).filter((v) => v % 500)} x={colX[1][0]} />
      <VLabel x={818} y={228.5}>Altitude [m AGL]</VLabel>
      <ColorBar x={1503} stops={[-4, 4]} color={velColor} ticks={[-4, -2, 0, 2, 4]} low="#3b4cc0" high="#b40426" labelX={1571} label={<>Velocity [<Unit size={CBL} /></>} />

      {/* Row 2 left */}
      <text x={389.6} y={408.5} textAnchor="middle" fontSize={TTL} fontStyle="italic">weather station</text>
      <Grid xs={grid0} ys={[22, 24, 26, 28, 30, 32, 34].map(yTemp)} x={colX[0]} y={rowY[1]} />
      <g clipPath="url(#clip01)">
        <path d={tLine(tFine) || ""} fill="none" stroke="#069af3" strokeWidth={2.8} strokeLinejoin="round" />
      </g>
      <Legend x={101} y={426.7} w={75.6} h={30.3} items={[{ color: "#069af3", label: "ta", y: 441, lx: 106, tx: 154 }]} />
      <g clipPath="url(#clip01)">
        <path d={rhLine(rhFine) || ""} fill="none" stroke="#ffa500" strokeWidth={2.8} strokeLinejoin="round" />
      </g>
      <Legend x={595} y={435} w={76.6} h={30.3} items={[{ color: "#ffa500", label: "rh", y: 449, lx: 600.5, tx: 649 }]} />
      <Frame x={colX[0]} y={rowY[1]} />
      <XAxis scale={x0} major={hourTicks} minor={minorHours} y={rowY[1][1]} />
      <YAxis scale={yTemp} major={[22, 24, 26, 28, 30, 32, 34]} minor={[21, 23, 25, 27, 29, 31, 33, 35]} x={colX[0][0]} />
      <YAxis scale={yRh} major={[20, 25, 30, 35, 40, 45, 50, 55]} minor={d3.range(18, 57).filter((v) => v % 5)} x={colX[0][1]} side={1} />
      <VLabel x={20.5} y={526}>Temperature [<tspan fontSize={13.6} fontStyle="italic" dy={-7}>o</tspan><tspan fontStyle="italic" dy={7}>C</tspan>]</VLabel>
      <VLabel x={732.5} y={525}>Relative Humidity [%]</VLabel>

      {/* Row 2 right */}
      <text x={1185.4} y={408.5} textAnchor="middle" fontSize={TTL} fontStyle="italic">weather station</text>
      <Grid xs={grid1} ys={[0, 2, 4].map(ySpeed)} x={colX[1]} y={rowY[1]} />
      <g clipPath="url(#clip11)">
        <path d={wsLine(windSpeed) || ""} fill="none" stroke="#ff0000" strokeWidth={2.8} strokeLinejoin="round" />
      </g>
      <Legend x={895.4} y={426.7} w={159.2} h={30.3} items={[{ color: "#ff0000", label: "Wind Speed", y: 441, lx: 901.4, tx: 949 }]} />
      <g clipPath="url(#clip11)" fill="#008000">
        {windDir.map((d, i) => <circle key={i} cx={x1((i * 3) / 60)} cy={yDeg(d)} r={2.8} />)}
        {windDirB.map((d, i) => <circle key={i} cx={x1((i * 3 + 1.5) / 60)} cy={yDeg(d)} r={2.8} />)}
        {windDirCore.map((d, i) => <circle key={i} cx={x1((i * 3 + 0.75) / 60)} cy={yDeg(d)} r={2.8} />)}
        {windDirOutlierHour.map((h, i) => <circle key={i} cx={x1(h)} cy={yDeg(windDirOutlierDeg[i])} r={2.8} />)}
      </g>
      <Legend x={1293.4} y={426.7} w={182.1} h={30.3} items={[{ color: "#008000", label: "Wind Direction", y: 441, dot: true, lx: 1298.3, tx: 1346 }]} />
      <Frame x={colX[1]} y={rowY[1]} />
      <XAxis scale={x1} major={hourTicks} minor={minorHours} labels={hourLabels} y={rowY[1][1]} labelY={654} />
      <YAxis scale={ySpeed} major={[0, 2, 4]} minor={[1, 3, 5]} x={colX[1][0]} />
      <YAxis scale={yDeg} major={[0, 60, 120, 180, 240, 300, 360]} minor={d3.range(20, 360, 20).filter((v) => v % 60)} x={colX[1][1]} side={1} />
      <VLabel x={813} y={526.5}>Wind Speed [<Unit /></VLabel>
      <VLabel x={1538.5} y={527}>Wind Direction [<tspan fontSize={13.6} dy={-7}>o</tspan><tspan dy={7}>]</tspan></VLabel>
      <text x={1185.4} y={682} textAnchor="middle" fontSize={LAB}>Time [UTC]</text>

      {/* Row 3 left */}
      <text x={389.6} y={705.5} textAnchor="middle" fontSize={TTL} fontStyle="italic">Disdrometer and Weather station</text>
      <Grid xs={grid0} ys={[]} x={colX[0]} y={rowY[2]} />
      <g clipPath="url(#clip02)">
        <path d={rainLine(rainMm) || ""} fill="none" stroke="#f48a64" strokeWidth={2.8} />
        <path d={stLine(stationMm) || ""} fill="none" stroke="#999999" strokeWidth={2.8} />
      </g>
      <Legend x={481.6} y={865.7} w={197.4} h={56.6} items={[
        { color: "#f48a64", label: "Thies Clima LNM", y: 880.3, lx: 487.5, tx: 534.8 },
        { color: "#999999", label: "Weather Station", y: 906.3, lx: 487.5, tx: 534.8 },
      ]} />
      <Frame x={colX[0]} y={rowY[2]} />
      <XAxis scale={x0} major={hourTicks} minor={minorHours} labels={hourLabels} y={rowY[2][1]} labelY={952.5} />
      <YAxis scale={yRain} major={[0]} minor={[]} x={colX[0][0]} />
      <VLabel x={22.5} y={823}>Cumulative rainfall [<tspan fontStyle="italic">mm</tspan>]</VLabel>
      <text x={389.6} y={980} textAnchor="middle" fontSize={LAB}>Time [UTC]</text>

      {/* Row 3 right */}
      <text x={1185.4} y={705.5} textAnchor="middle" fontSize={TTL} fontStyle="italic">Relationship disdrometer fall speed / drop size</text>
      <Grid xs={[1, 2, 3, 4].map(xDiam)} ys={[2, 4, 6, 8].map(yFall)} x={colX[1]} y={rowY[2]} />
      <text x={1151} y={844} textAnchor="middle" fontSize={19.44} fontStyle="italic">No fit</text>
      <Frame x={colX[1]} y={rowY[2]} />
      <XAxis scale={xDiam} major={[0, 1, 2, 3, 4, 5]} minor={[0.5, 1.5, 2.5, 3.5, 4.5]} labels={["0", "1", "2", "3", "4", "5"]} y={rowY[2][1]} labelY={952.5} />
      <YAxis scale={yFall} major={[0, 2, 4, 6, 8, 10]} minor={[1, 3, 5, 7, 9]} x={colX[1][0]} />
      <VLabel x={813} y={822}>Fall speed [<Unit /></VLabel>
      <text x={1185.4} y={980} textAnchor="middle" fontSize={LAB}>Diameter [<tspan fontStyle="italic">mm</tspan>]</text>
    </svg>
  );
}
